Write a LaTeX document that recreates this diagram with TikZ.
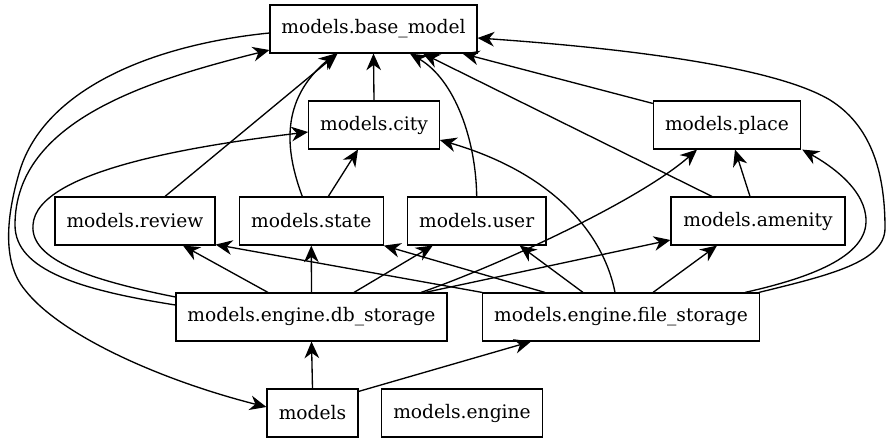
\documentclass[tikz,border=0pt]{standalone}
\usepackage{fontspec}
\setmainfont{DejaVu Serif}
\usetikzlibrary{calc,arrows.meta}
\begin{document}
\begin{tikzpicture}[x=0.75pt,y=-0.75pt,
  box/.style={draw,line width=0.85pt,inner sep=0pt,minimum height=36pt,font=\fontsize{14}{17}\selectfont},
  dep/.style={line width=1pt,-{Stealth[length=12.5pt,width=11pt,inset=4pt]}}]
\useasboundingbox (0,0) rectangle (893,443);
\node[box,minimum width=155.25pt] (base) at (373.5,29) {models.base\_model};
\node[box,minimum width=98pt] (city) at (374,125) {models.city};
\node[box,minimum width=110.5pt] (place) at (727,125) {models.place};
\node[box,minimum width=120pt] (review) at (135,221) {models.review};
\node[box,minimum width=108pt] (state) at (311.3,221) {models.state};
\node[box,minimum width=104pt] (user) at (476.7,221) {models.user};
\node[box,minimum width=130.5pt] (amenity) at (758,221) {models.amenity};
\node[box,minimum width=203.25pt] (db) at (311.5,317) {models.engine.db\_storage};
\node[box,minimum width=207.4pt] (file) at (621,317) {models.engine.file\_storage};
\node[box,minimum width=68.25pt] (models) at (312.5,413) {models};
\node[box,minimum width=120.5pt] (engine) at (462,413) {models.engine};

% top part
\draw[dep] (city.north) -- (base.south);
\draw[dep] ($(state.north)+(17,0)$) -- ($(city.south)+(-16,0)$);
\draw[dep] ($(state.north)+(-9,0)$) .. controls (285,150) and (280,100) .. ($(base.south)+(-38,0)$);
\draw[dep] ($(review.north)+(30,0)$) -- ($(base.south)+(-36,0)$);
\draw[dep] (user.north) .. controls (476,140) and (455,80) .. ($(base.south)+(36.5,0)$);
\draw[dep] ($(place.north west)+(0,3)$) -- ($(base.south east)+(-15,0)$);
\draw[dep] ($(amenity.north)+(-46,0)$) -- ($(base.south)+(49.5,0)$);
\draw[dep] ($(amenity.north)+(-8,0)$) -- ($(place.south)+(8,0)$);

% db_storage
\draw[dep] ($(db.north)+(-43.5,0)$) -- ($(review.south)+(48,0)$);
\draw[dep] (db.north) -- (state.south);
\draw[dep] ($(db.north)+(42.5,0)$) -- ($(user.south)+(-44,0)$);
\draw[dep] ($(db.north)+(109.5,0)$) .. controls (500,265) and (640,200) .. ($(place.south)+(-30,0)$);
\draw[dep] ($(db.north)+(113.5,0)$) -- ($(amenity.west)+(0,19)$);
\draw[dep] ($(db.west)+(0,-20)$) .. controls (90,280) and (30,260) .. (33,225)
  .. controls (36,170) and (200,145) .. ($(city.west)+(0,7)$);
\draw[dep] ($(db.west)+(0,-12)$) .. controls (80,290) and (15,270) .. (15,225)
  .. controls (15,120) and (150,80) .. ($(base.west)+(0,21)$);
\draw[dep] ($(base.west)+(0,4)$) .. controls (150,45) and (45,90) .. (20,170)
  .. controls (8,210) and (0,260) .. (25,290)
  .. controls (60,335) and (160,380) .. ($(models.west)+(0,-6)$);

% file_storage
\draw[dep] (file.north west) -- ($(review.south east)+(0,-1)$);
\draw[dep] ($(file.north)+(-76,0)$) -- (state.south east);
\draw[dep] ($(file.north)+(-38,0)$) -- ($(user.south)+(43,0)$);
\draw[dep] ($(file.north)+(-6,0)$) .. controls (605,240) and (560,175) .. ($(city.east)+(0,15)$);
\draw[dep] ($(file.north)+(32,0)$) -- ($(amenity.south)+(-41,0)$);
\draw[dep] ($(file.north)+(124,0)$) .. controls (800,280) and (865,260) .. (866,222)
  .. controls (867,190) and (830,165) .. ($(place.south east)+(1,0)$);
\draw[dep] ($(file.north east)+(-1,0)$) .. controls (830,275) and (885,262) .. (885,228)
  .. controls (885,170) and (870,125) .. (830,100)
  .. controls (780,70) and (650,50) .. ($(base.east)+(0,9)$);

% models
\draw[dep] (models.north) -- (db.south);
\draw[dep] ($(models.north east)+(0,3)$) -- ($(file.south)+(-90,0)$);
\end{tikzpicture}
\end{document}
